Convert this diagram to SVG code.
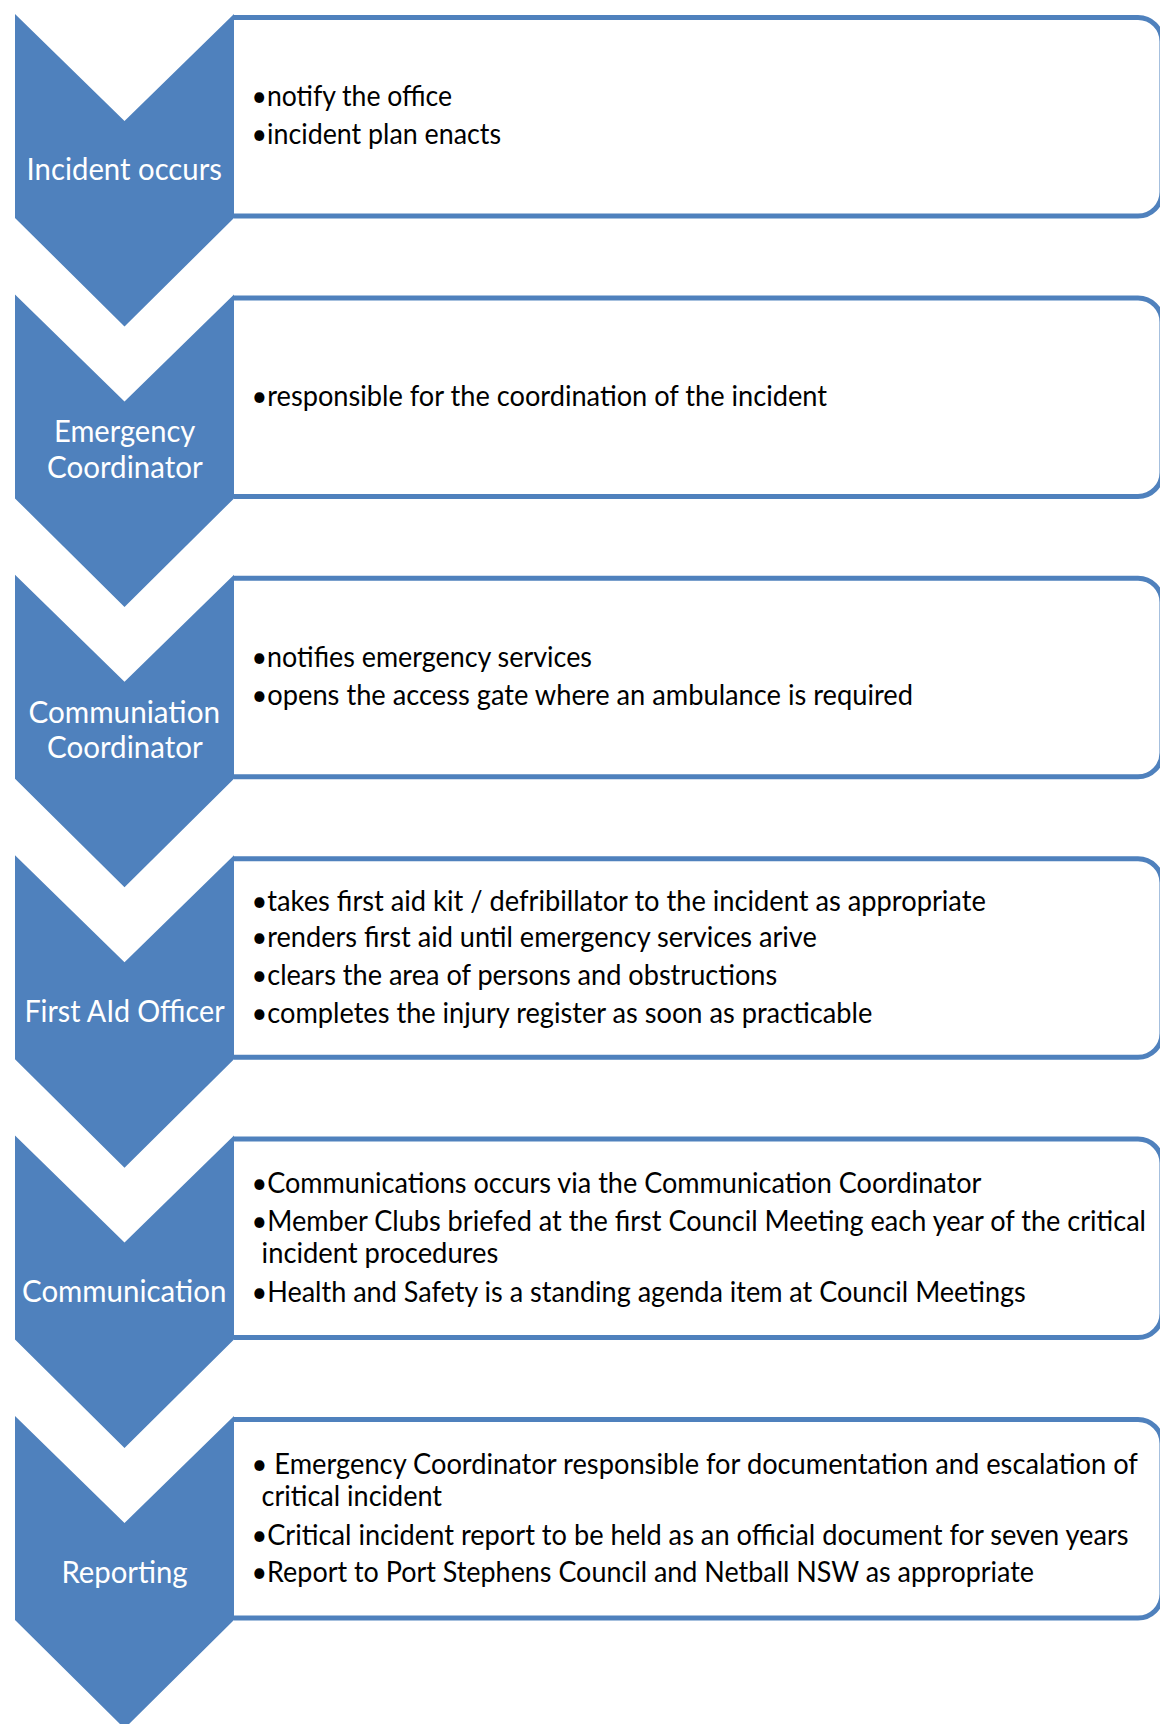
<svg xmlns="http://www.w3.org/2000/svg" width="1160" height="1724" viewBox="0 0 1160 1724">
<style>
.chev{fill:#4F81BD;stroke:none}
.box{fill:#FFFFFF;stroke:#4F81BD;stroke-width:5}
.lbl{font-family:Lato,"Open Sans","Liberation Sans",sans-serif;font-size:31px;fill:#FFFFFF}
.txt{font-family:Lato,"Open Sans","Liberation Sans",sans-serif;font-size:29px;fill:#000000}
</style>
<rect width="1160" height="1724" fill="#FFFFFF"/>
<g id="node1">
<path class="box" d="M234,17.5 H1138 A24,24 0 0 1 1162,41.5 V192 A24,24 0 0 1 1138,216 H234"/>
<polygon class="chev" points="15,14 124.5,121 234,14 234,218 124.5,326.5 15,218"/>
<text class="lbl" x="26.6" y="179.5" textLength="195.4" lengthAdjust="spacingAndGlyphs">Incident occurs</text>
<text class="txt" x="251.5" y="106" textLength="200.5" lengthAdjust="spacingAndGlyphs">•notify the office</text>
<text class="txt" x="251.5" y="143.5" textLength="249.5" lengthAdjust="spacingAndGlyphs">•incident plan enacts</text>
</g>
<g id="node2">
<path class="box" d="M234,297.9 H1138 A24,24 0 0 1 1162,321.9 V472.4 A24,24 0 0 1 1138,496.4 H234"/>
<polygon class="chev" points="15,294.4 124.5,401.4 234,294.4 234,498.4 124.5,606.9 15,498.4"/>
<text class="lbl" x="54" y="442" textLength="141.3" lengthAdjust="spacingAndGlyphs">Emergency</text>
<text class="lbl" x="47" y="478" textLength="155.7" lengthAdjust="spacingAndGlyphs">Coordinator</text>
<text class="txt" x="251.5" y="406" textLength="575.5" lengthAdjust="spacingAndGlyphs">•responsible for the coordination of the incident</text>
</g>
<g id="node3">
<path class="box" d="M234,578.3 H1138 A24,24 0 0 1 1162,602.3 V752.8 A24,24 0 0 1 1138,776.8 H234"/>
<polygon class="chev" points="15,574.8 124.5,681.8 234,574.8 234,778.8 124.5,887.3 15,778.8"/>
<text class="lbl" x="28.5" y="722.7" textLength="191.5" lengthAdjust="spacingAndGlyphs">Communiation</text>
<text class="lbl" x="47" y="758" textLength="155.7" lengthAdjust="spacingAndGlyphs">Coordinator</text>
<text class="txt" x="251.5" y="667.3" textLength="340.5" lengthAdjust="spacingAndGlyphs">•notifies emergency services</text>
<text class="txt" x="251.5" y="705.3" textLength="661.5" lengthAdjust="spacingAndGlyphs">•opens the access gate where an ambulance is required</text>
</g>
<g id="node4">
<path class="box" d="M234,858.7 H1138 A24,24 0 0 1 1162,882.7 V1033.2 A24,24 0 0 1 1138,1057.2 H234"/>
<polygon class="chev" points="15,855.2 124.5,962.2 234,855.2 234,1059.2 124.5,1167.7 15,1059.2"/>
<text class="lbl" x="24.4" y="1021.7" textLength="200.2" lengthAdjust="spacingAndGlyphs">First AId Officer</text>
<text class="txt" x="251.5" y="910.7" textLength="734.3" lengthAdjust="spacingAndGlyphs">•takes first aid kit / defribillator to the incident as appropriate</text>
<text class="txt" x="251.5" y="947.3" textLength="565.3" lengthAdjust="spacingAndGlyphs">•renders first aid until emergency services arive</text>
<text class="txt" x="251.5" y="985.3" textLength="525.7" lengthAdjust="spacingAndGlyphs">•clears the area of persons and obstructions</text>
<text class="txt" x="251.5" y="1022.7" textLength="620.8" lengthAdjust="spacingAndGlyphs">•completes the injury register as soon as practicable</text>
</g>
<g id="node5">
<path class="box" d="M234,1139.1 H1138 A24,24 0 0 1 1162,1163.1 V1313.6 A24,24 0 0 1 1138,1337.6 H234"/>
<polygon class="chev" points="15,1135.6 124.5,1242.6 234,1135.6 234,1339.6 124.5,1448.1 15,1339.6"/>
<text class="lbl" x="22" y="1301.7" textLength="204.4" lengthAdjust="spacingAndGlyphs">Communication</text>
<text class="txt" x="251.5" y="1193.3" textLength="729.9" lengthAdjust="spacingAndGlyphs">•Communications occurs via the Communication Coordinator</text>
<text class="txt" x="251.5" y="1231" textLength="894.5" lengthAdjust="spacingAndGlyphs">•Member Clubs briefed at the first Council Meeting each year of the critical</text>
<text class="txt" x="261.6" y="1263.3" textLength="236.7" lengthAdjust="spacingAndGlyphs">incident procedures</text>
<text class="txt" x="251.5" y="1301.7" textLength="774.3" lengthAdjust="spacingAndGlyphs">•Health and Safety is a standing agenda item at Council Meetings</text>
</g>
<g id="node6">
<path class="box" d="M234,1419.5 H1138 A24,24 0 0 1 1162,1443.5 V1594 A24,24 0 0 1 1138,1618 H234"/>
<polygon class="chev" points="15,1416 124.5,1523 234,1416 234,1620 124.5,1728.5 15,1620"/>
<text class="lbl" x="61.4" y="1582.7" textLength="126.2" lengthAdjust="spacingAndGlyphs">Reporting</text>
<text class="txt" x="251.5" y="1474" textLength="886.4" lengthAdjust="spacingAndGlyphs">• Emergency Coordinator responsible for documentation and escalation of</text>
<text class="txt" x="261.6" y="1506" textLength="180.4" lengthAdjust="spacingAndGlyphs">critical incident</text>
<text class="txt" x="251.5" y="1545" textLength="877.1" lengthAdjust="spacingAndGlyphs">•Critical incident report to be held as an official document for seven years</text>
<text class="txt" x="251.5" y="1581.7" textLength="782.5" lengthAdjust="spacingAndGlyphs">•Report to Port Stephens Council and Netball NSW as appropriate</text>
</g>
</svg>
